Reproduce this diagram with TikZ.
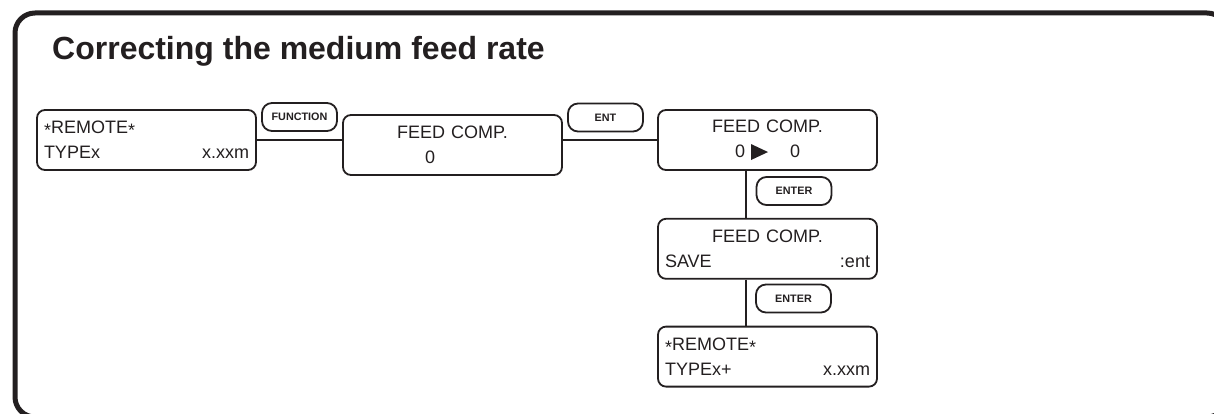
\documentclass[tikz,border=0pt]{standalone}
\usepackage{fontspec}
\setmainfont{Liberation Sans}
\usepackage{tikz}
\usetikzlibrary{positioning}
\usepackage{xcolor}
\definecolor{inkdark}{HTML}{231F20}
\newcommand{\fwdtri}{\tikz[baseline=0pt, sharp corners]\fill[inkdark] (0pt,-2.5pt) -- (0pt,13.5pt) -- (17pt,5.5pt) -- cycle;}
\newcommand{\lcdstar}{\raisebox{-3pt}{*}}

\begin{document}
\begin{tikzpicture}[x=1pt, y=-1pt, inkdark,
    lcd/.style={draw, line width=1.8pt, rounded corners=8pt, minimum height=60pt,
      text width=205pt, inner xsep=7pt, inner ysep=0pt, align=left,
      font=\fontsize{18}{25}\selectfont},
    keybtn/.style={draw, line width=1.8pt, rounded corners=10pt, minimum width=75pt,
      minimum height=28pt, inner sep=0pt, font=\fontsize{10.8}{12}\selectfont\bfseries},
    link/.style={line width=1.8pt}]
  \useasboundingbox (0,0) rectangle (1214,414);
  % outer frame
  \draw[line width=5pt, rounded corners=20pt] (15,13) rectangle (1227,417);
  % title
  \node[anchor=base west, inner sep=0pt, font=\fontsize{32}{36}\selectfont\bfseries] (title) at (52,60) {Correcting the medium feed rate};
  % displays
  \node[lcd] (remote) at (146.5,140) {\lcdstar REMOTE\lcdstar\\TYPEx\hfill x.xxm};
  \node[lcd] (feed) at (452.5,145) {\makebox[\linewidth]{FEED COMP.}\\\hspace*{75pt}0};
  \node[lcd] (feedset) at (767.5,140) {\makebox[\linewidth]{FEED COMP.}\\\makebox[\linewidth]{0\hspace{6pt}\fwdtri\hspace{22pt}0}};
  \node[lcd, below=47pt of feedset] (feedsave) {\makebox[\linewidth]{FEED COMP.}\\SAVE\hfill:ent};
  \node[lcd, below=46pt of feedsave] (remoteb) {\lcdstar REMOTE\lcdstar\\TYPEx+\hfill x.xxm};
  % keys
  \node[keybtn] (kfunc) at (299.5,117) {FUNCTION};
  \node[keybtn] (kent) at (605.5,117.5) {ENT};
  \node[keybtn] (kenter) at (794,191) {ENTER};
  \node[keybtn] (kentersave) at (793.5,298.5) {ENTER};
  % links
  \draw[link] (remote.east) -- (remote.east -| feed.west);
  \draw[link] (feedset.west -| feed.east) -- (feedset.west);
  \draw[link] ([xshift=-21.5pt]feedset.south) -- ([xshift=-21.5pt]feedsave.north);
  \draw[link] ([xshift=-21.5pt]feedsave.south) -- ([xshift=-21.5pt]remoteb.north);
\end{tikzpicture}
\end{document}
